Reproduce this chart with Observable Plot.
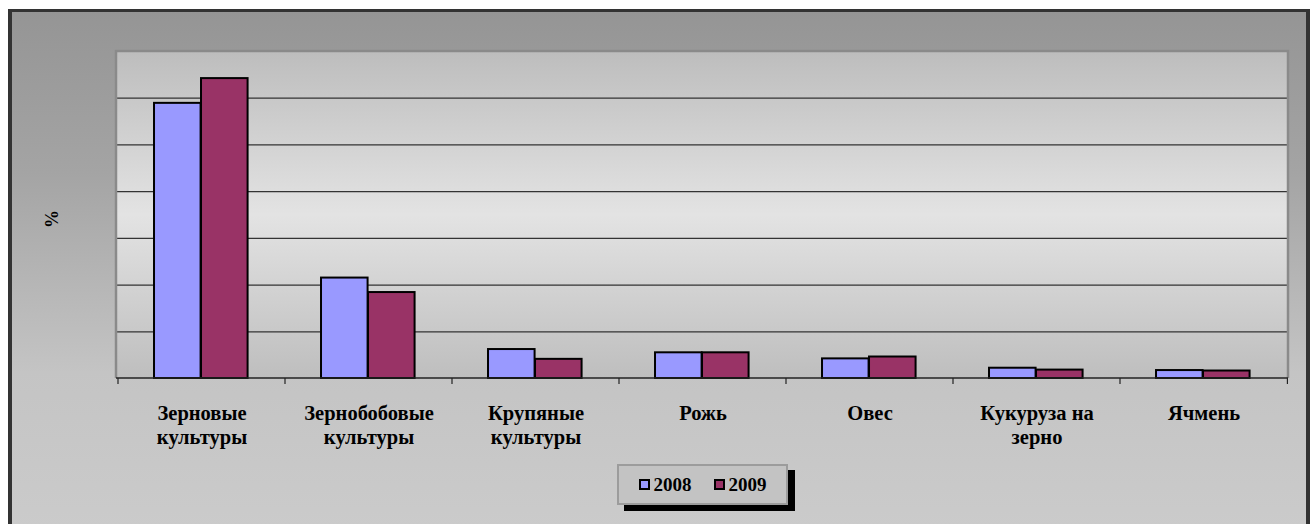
<!DOCTYPE html>
<html>
<head>
<meta charset="utf-8">
<script src="https://cdn.jsdelivr.net/npm/d3@7"></script>
<script src="https://cdn.jsdelivr.net/npm/@observablehq/plot@0.6"></script>
<style>
html, body { margin: 0; padding: 0; background: #fff; width: 1310px; height: 524px; overflow: hidden; }
#frame {
  position: absolute; left: 8px; top: 9px; width: 1294px; height: 530px;
  border-left: 4px solid #333; border-top: 3px solid #333; border-right: 4px solid #333;
  background: linear-gradient(to bottom, #959595 0px, #a4a4a4 160px, #c4c4c4 360px, #cbcbcb 520px);
}
#chart { position: absolute; left: 0; top: 0; }
#chart text { font-family: "Liberation Serif", "DejaVu Serif", serif; }
#legend {
  position: absolute; left: 617px; top: 464px; width: 171px; height: 41px; box-sizing: border-box;
  border: 2px solid #9c9c9c; background: #c3c3c3; box-shadow: 7px 6px 0 #000;
  display: flex; align-items: center; justify-content: center; gap: 22px;
  font-family: "Liberation Serif", "DejaVu Serif", serif; font-weight: bold; font-size: 19px; color: #000;
}
#legend .item { display: flex; align-items: center; gap: 4px; }
#legend .sw { width: 7px; height: 7px; border: 2px solid #000; }
</style>
</head>
<body>
<div id="frame"></div>
<div id="chart"></div>
<div id="legend"></div>
<script>
const categories = ["Зерновые\nкультуры", "Зернобобовые\nкультуры", "Крупяные\nкультуры", "Рожь", "Овес", "Кукуруза на\nзерно", "Ячмень"];
const values2008 = [58.9, 21.5, 6.2, 5.5, 4.2, 2.2, 1.7];
const values2009 = [64.2, 18.4, 4.1, 5.5, 4.6, 1.8, 1.6];
const years = ["2008", "2009"];
const colors = ["#9999ff", "#993366"];
const gridTicks = [10, 20, 30, 40, 50, 60];
const yMax = 70;
const yLabel = "%";

const rows = categories.map((c, i) => ({cat: c, v2008: values2008[i], v2009: values2009[i]}));

const W = 1310, H = 460, ML = 116, MR = 22, MT = 51, MB = 82;
const bw = (W - ML - MR) / categories.length;
const groupW = 94;
const gap = (bw - groupW) / 2 - 0.7;
const FONT = "'Liberation Serif', 'DejaVu Serif', serif";

const svgNS = "http://www.w3.org/2000/svg";
function el(tag, attrs) {
  const e = document.createElementNS(svgNS, tag);
  for (const k in attrs) e.setAttribute(k, attrs[k]);
  return e;
}

const plotBackground = (index, scales, values, dims) => {
  const {width, height, marginLeft, marginRight, marginTop, marginBottom} = dims;
  const g = el("g", {});
  const defs = el("defs", {});
  const lg = el("linearGradient", {id: "plotGrad", x1: 0, y1: 0, x2: 0, y2: 1});
  [[0, "#bdbdbd"], [0.5, "#e3e3e3"], [1, "#bebebe"]].forEach(([o, c]) => lg.appendChild(el("stop", {offset: o, "stop-color": c})));
  defs.appendChild(lg);
  g.appendChild(defs);
  g.appendChild(el("rect", {x: marginLeft, y: marginTop, width: width - marginLeft - marginRight, height: height - marginTop - marginBottom, fill: "url(#plotGrad)"}));
  return g;
};

const plotFrame = (index, scales, values, dims) => {
  const {width, height, marginLeft, marginRight, marginTop, marginBottom} = dims;
  const x0 = marginLeft, x1 = width - marginRight, y0 = marginTop, y1 = height - marginBottom;
  const g = el("g", {});
  g.appendChild(el("path", {d: `M${x0},${y1}V${y0}H${x1}V${y1}`, fill: "none", stroke: "#8a8a8a", "stroke-width": 2.5}));
  g.appendChild(el("line", {x1: x0, x2: x1, y1: y1, y2: y1, stroke: "#222", "stroke-width": 1.5}));
  const step = (x1 - x0) / categories.length;
  const xs = categories.map(c => scales.x(c));
  xs.push(xs[xs.length - 1] + step);
  for (const x of xs) {
    g.appendChild(el("line", {x1: x, x2: x, y1: y1, y2: y1 + 6, stroke: "#222", "stroke-width": 1.2}));
  }
  return g;
};

const chart = Plot.plot({
  width: W, height: H,
  marginLeft: ML, marginRight: MR, marginTop: MT, marginBottom: MB,
  style: {background: "transparent", fontFamily: FONT, overflow: "visible"},
  x: {domain: categories, padding: 0, axis: null},
  y: {domain: [0, yMax], axis: null},
  marks: [
    plotBackground,
    Plot.ruleY(gridTicks, {stroke: "#333", strokeWidth: 1.2}),
    Plot.barY(rows, {x: "cat", y: "v2008", fill: colors[0], stroke: "#000", strokeWidth: 2,
      insetLeft: gap, insetRight: bw - gap - groupW / 2}),
    Plot.barY(rows, {x: "cat", y: "v2009", fill: colors[1], stroke: "#000", strokeWidth: 2,
      insetLeft: gap + groupW / 2, insetRight: bw - gap - groupW}),
    plotFrame,
    Plot.text(categories, {x: d => d, text: d => d, frameAnchor: "bottom", lineAnchor: "top", dy: 24,
      fontSize: 20.5, fontWeight: "bold", fontFamily: FONT, fill: "#000", lineHeight: 1.17}),
    Plot.text([yLabel], {frameAnchor: "left", textAnchor: "middle", dx: -64, dy: 4, rotate: -90, fontSize: 18, fontWeight: "bold", fontFamily: FONT, fill: "#000"})
  ]
});
document.getElementById("chart").appendChild(chart);

const legend = document.getElementById("legend");
years.forEach((y, i) => {
  const item = document.createElement("div");
  item.className = "item";
  const sw = document.createElement("div");
  sw.className = "sw";
  sw.style.background = colors[i];
  const t = document.createElement("span");
  t.textContent = y;
  item.appendChild(sw);
  item.appendChild(t);
  legend.appendChild(item);
});
</script>
</body>
</html>
